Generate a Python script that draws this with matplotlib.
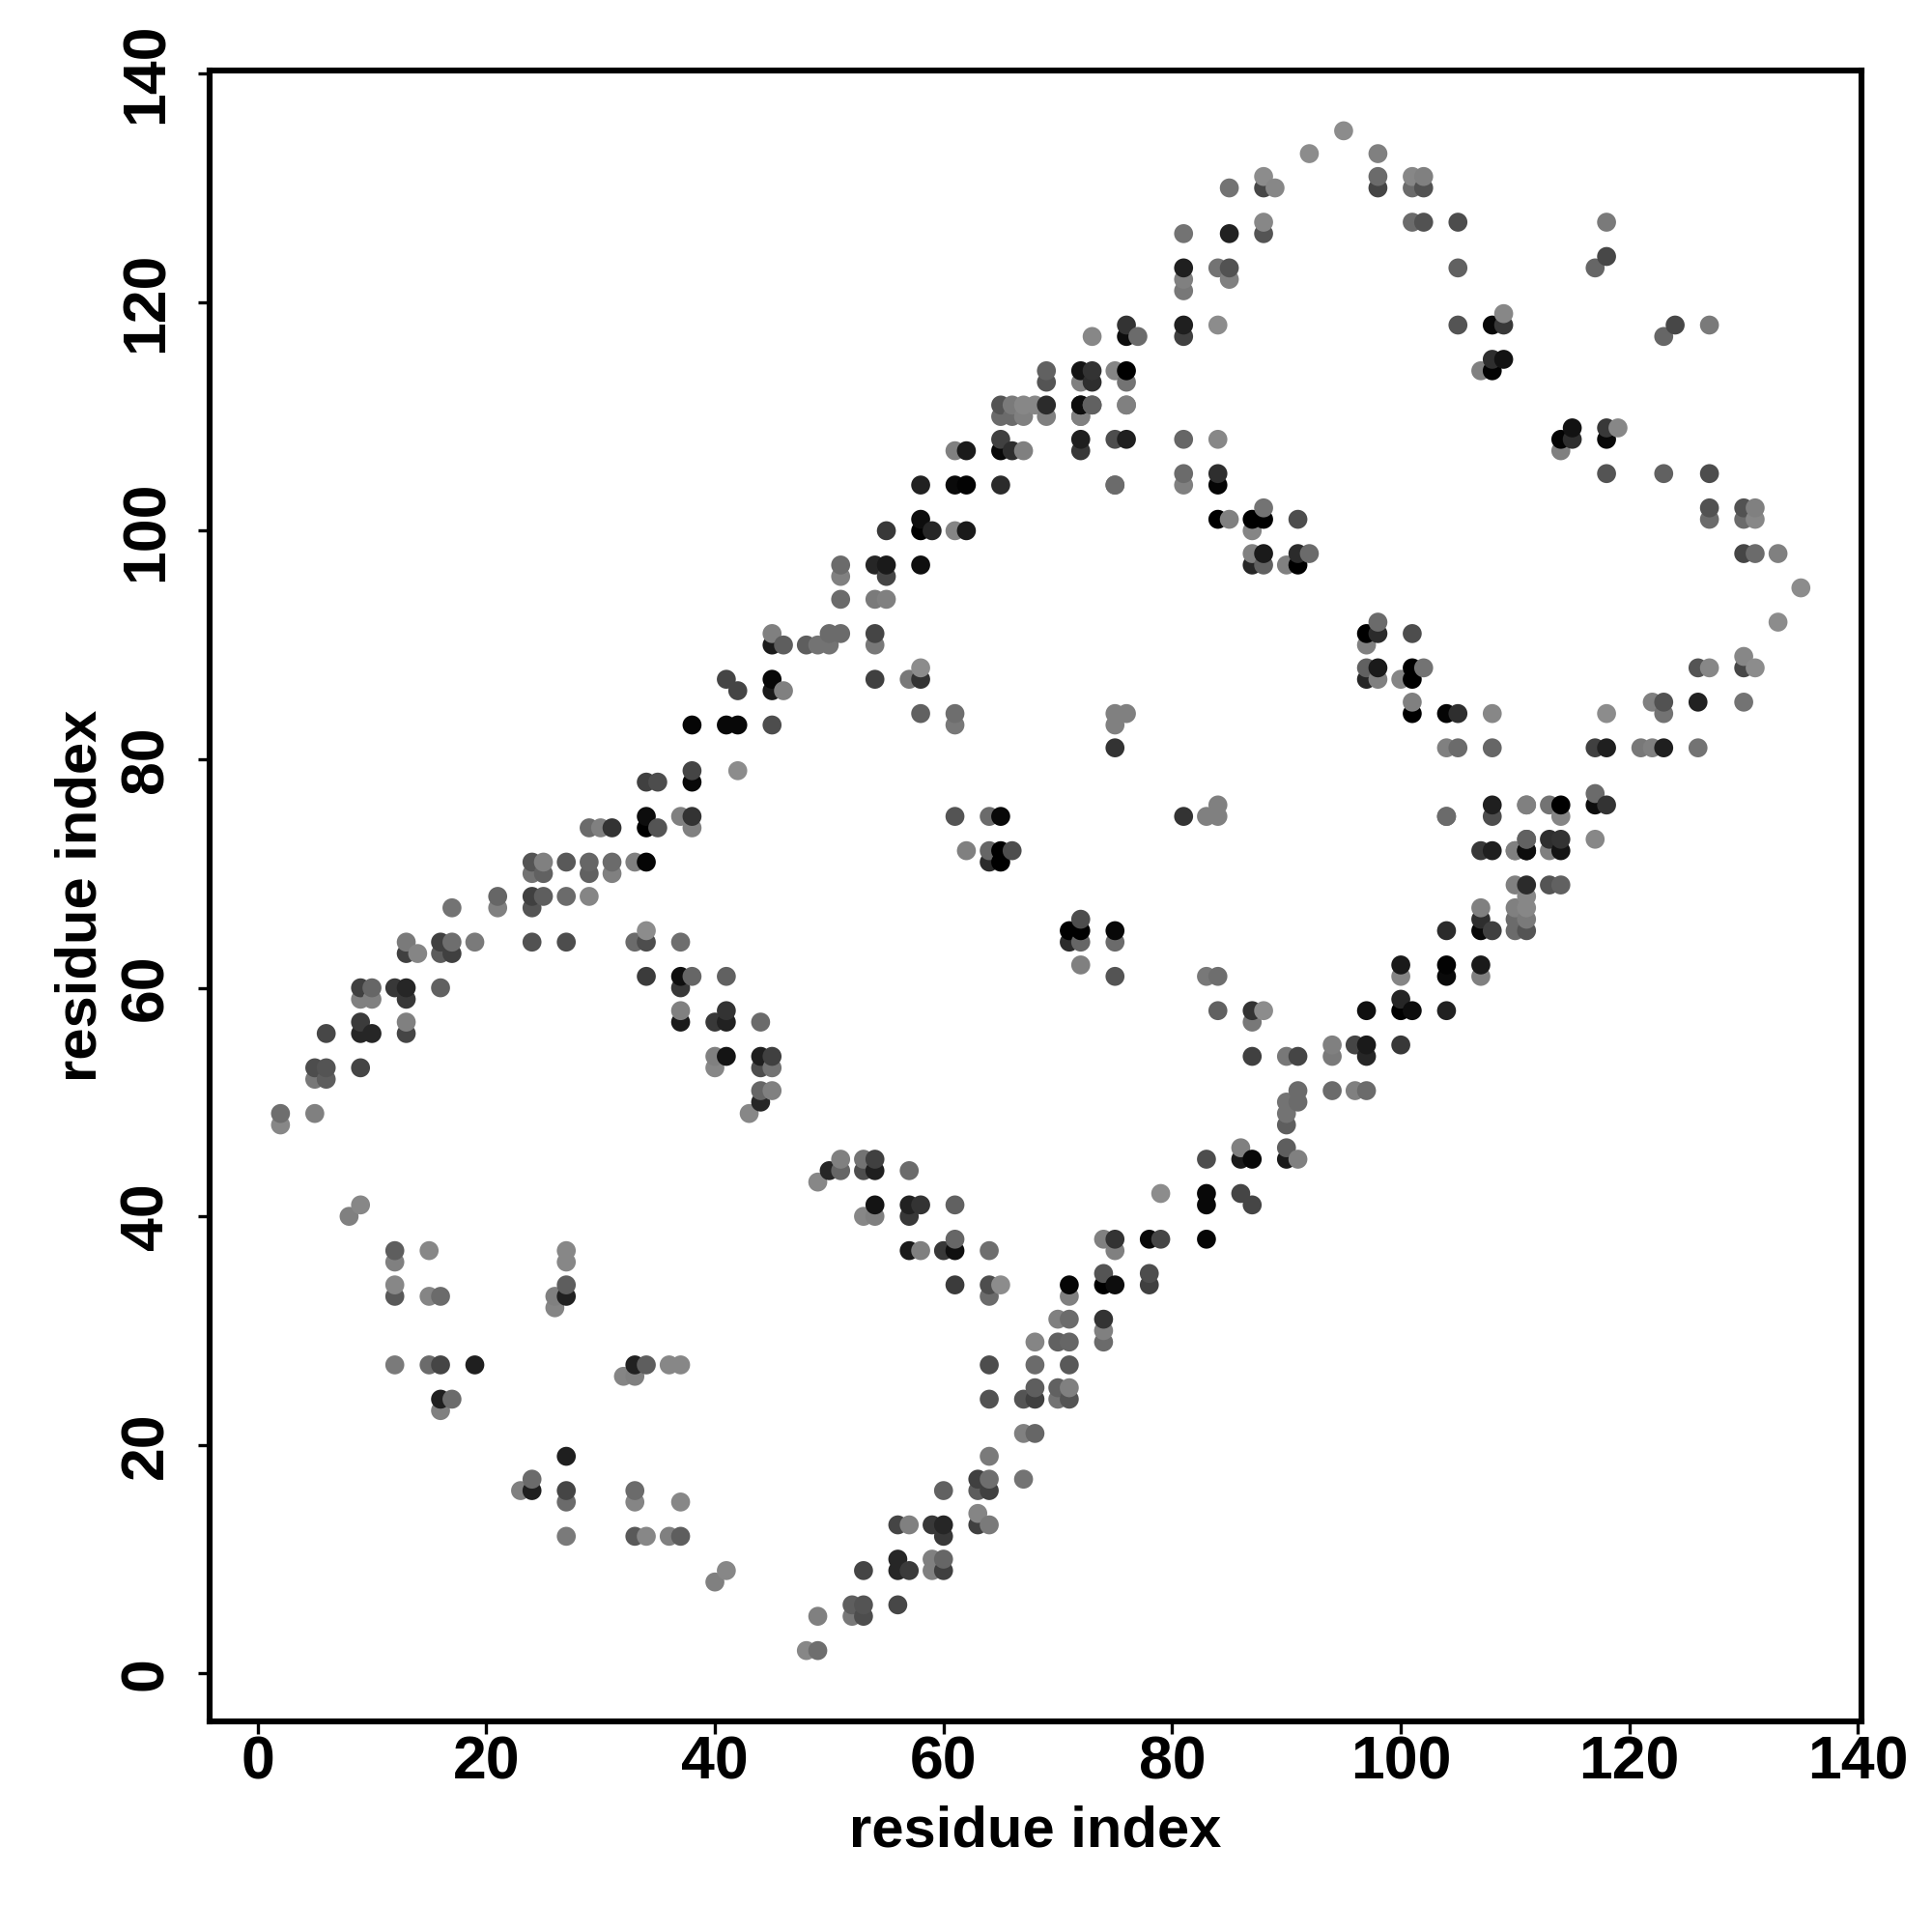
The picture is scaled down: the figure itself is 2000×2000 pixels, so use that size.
import numpy as np
import matplotlib
matplotlib.use("Agg")
import matplotlib.pyplot as plt

plt.rcParams['font.family'] = ['Liberation Sans', 'DejaVu Sans']

# Upper triangle of the symmetric contact map, row by row (j = row value)
res_i = [95, 92,98, 88,89,88,85,98,98,101,102,101,102, 88,88,85,81,101,102,105,
         81,81,81,84,85,85,105, 81,81,84,76,76,77,73,105,108,109,109,108,109,108,107,
         72,73,73,72,75,76,76, 72,73,72,76, 72,72,75,76,81,84, 81,81,84,84,75,
         88,87,88,84,85,91,87, 87,88,87,88,90,91,92,91,
         65,66,67,68,69,72,73,76, 65,66,67,69,72,
         65,61,62,65,66,67, 58,61,62,65,75, 58,55,58,59,61,62,
         51,54,55,58,51,55, 51,54,55, 45,50,51,54, 45,46,48,49,50,54,
         41,45,54,57,58,58, 42,45,46, 38,41,42,45,61, 58,61,75,76, 75,
         38,42,38,34,35, 38,37,34,61,64,65,
         29,30,31,34,35,38, 62,64,65,66, 64,65,
         24,25,27,29,31,33,34, 24,25,29,31, 21,24,25,27,29, 17,21,24,
         13,16,17,19,24,27,33,34,37, 34, 13,14,16,17, 34,37,38,41,
         9,10,12,13,16,37, 9,10,13, 37,41, 9,13,37,40,41,44,
         6,9,10,13, 40,41,44,45, 5,6,9,40,44,45, 5,6, 44,45, 44, 2,5,43, 2, 9, 8,
         12,15,27, 12,27, 12,27, 12,15,16,27,26, 26,
         12,15,16,19,33,34,36,37, 32,33, 16,17, 16, 27, 24, 23,24,27,33, 27,33,37,
         27,33,34,36,37, 9,8,
         117,118,118, 75, 69,69]
res_j = [135, 133,133, 131,130,130,130,131,130,131,131,130,130, 127,126,126,126,127,127,127,
         123,122,121,123,123,122,123, 118,117,118,118,117,117,117,118,118,118,119,115,115,114,114,
         114,114,113,113,114,114,113, 111,111,110,111, 108,107,108,108,108,108, 105,104,105,104,104,
         102,101,101,101,101,101,100, 98,98,97,97,97,98,98,97,
         111,111,111,111,111,111,111,111, 110,110,110,110,110,
         108,107,107,107,107,107, 104,104,104,104,104, 101,100,100,100,100,100,
         97,97,97,97,96,96, 94,94,94, 91,91,91,91, 90,90,90,90,90,90,
         87,87,87,87,87,88, 86,86,86, 83,83,83,83,83, 84,84,84,84, 83,
         79,79,78,78,78, 75,75,75,75,75,75,
         74,74,74,74,74,74, 72,72,72,72, 71,71,
         71,71,71,71,71,71,71, 70,70,70,70, 68,68,68,68,68, 67,67,67,
         64,64,64,64,64,64,64,64,64, 65, 63,63,63,63, 61,61,61,61,
         60,60,60,60,60,60, 59,59,59, 58,58, 57,57,57,57,57,57,
         56,56,56,56, 54,54,54,54, 53,53,53,53,53,53, 52,52, 51,51, 50, 49,49,49, 48, 41, 40,
         37,37,37, 36,36, 34,34, 33,33,33,33,33, 32,
         27,27,27,27,27,27,27,27, 26,26, 24,24, 23, 19, 17, 16,16,16,16, 15,15,15,
         12,12,12,12,12, 9,8,
         123,124,127, 81, 114,113]
shade = [.55, .55,.50, .55,.53,.28,.45,.42,.27,.53,.50,.42,.32, .53,.33,.13,.45,.42,.32,.30,
         .12,.50,.47,.45,.32,.50,.38, .12,.25,.55,.20,.05,.42,.53,.33,.03,.22,.53,.18,.07,.01,.50,
         .08,.20,.18,.50,.52,.00,.45, .05,.38,.50,.50, .12,.22,.30,.12,.40,.53, .42,.50,.18,.02,.42,
         .45,.00,.00,.00,.50,.30,.52, .50,.10,.15,.38,.50,.17,.42,.00,
         .33,.48,.53,.53,.17,.05,.38,.50, .42,.42,.50,.50,.50,
         .25,.50,.10,.03,.18,.50, .13,.04,.01,.17,.42, .05,.22,.00,.15,.52,.10,
         .42,.15,.10,.06,.50,.27, .42,.48,.50, .50,.42,.42,.27, .10,.37,.37,.45,.45,.47,
         .27,.03,.25,.47,.20,.55, .27,.10,.50, .02,.03,.03,.30,.47, .38,.43,.50,.50, .50,
         .27,.55,.03,.25,.30, .20,.50,.05,.33,.42,.03,
         .42,.50,.20,.00,.33,.50, .50,.40,.00,.30, .17,.00,
         .33,.50,.35,.40,.42,.50,.02, .45,.38,.38,.50, .40,.25,.37,.42,.52, .45,.50,.33,
         .48,.25,.43,.48,.32,.30,.42,.30,.43, .55, .25,.52,.36,.25, .23,.06,.40,.38,
         .25,.40,.22,.15,.38,.22, .50,.50,.22, .50,.20, .23,.50,.10,.22,.13,.42,
         .28,.15,.15,.27, .50,.08,.12,.25, .30,.33,.27,.53,.30,.45, .47,.37, .40,.50, .15, .43,.50,.53, .53, .53, .50,
         .37,.53,.53, .50,.53, .53,.37, .35,.52,.42,.13,.50, .52,
         .48,.42,.27,.12,.12,.38,.50,.53, .48,.50, .12,.42, .50, .13, .42, .50,.12,.27,.42, .38,.50,.52,
         .52,.35,.53,.50,.37, .53,.50,
         .40,.28,.48, .20, .38,.33]
tick_values = [0, 20, 40, 60, 80, 100, 120, 140]
axis_label = "residue index"

i = np.array(res_i)
j = np.array(res_j)
g = np.array(shade)
keep = j > i
i, j, g = i[keep], j[keep], g[keep]
xs = np.concatenate([i, j])
ys = np.concatenate([j, i])
gs = np.concatenate([g, g])
order = np.lexsort((ys, xs))

fig = plt.figure(figsize=(10, 10), dpi=200)
ax = fig.add_axes([217/2000, 1-1782/2000, (1927-217)/2000, (1782-72.7)/2000])
ax.scatter(xs[order], ys[order], s=50, c=[str(v) for v in gs[order]], linewidths=0, zorder=3)
ax.set_xlim(-4.2, 140.3)
ax.set_ylim(-4.2, 140.3)
for s in ax.spines.values():
    s.set_linewidth(2.2)
ax.set_xticks(tick_values)
ax.set_yticks(tick_values)
ax.tick_params(axis='both', length=4.5, width=1.2, labelsize=22.5)
ax.tick_params(axis='x', pad=0.5)
ax.tick_params(axis='y', pad=8.4)
for t in ax.get_xticklabels():
    t.set_fontweight('bold')
for t in ax.get_yticklabels():
    t.set_fontweight('bold')
    t.set_rotation(90)
    t.set_va('center')
ax.set_xlabel(axis_label, fontsize=21.5, fontweight='bold', labelpad=5)
ax.set_ylabel(axis_label, fontsize=21.5, fontweight='bold', labelpad=4)
fig.savefig("out.png", dpi=200, facecolor='white')
